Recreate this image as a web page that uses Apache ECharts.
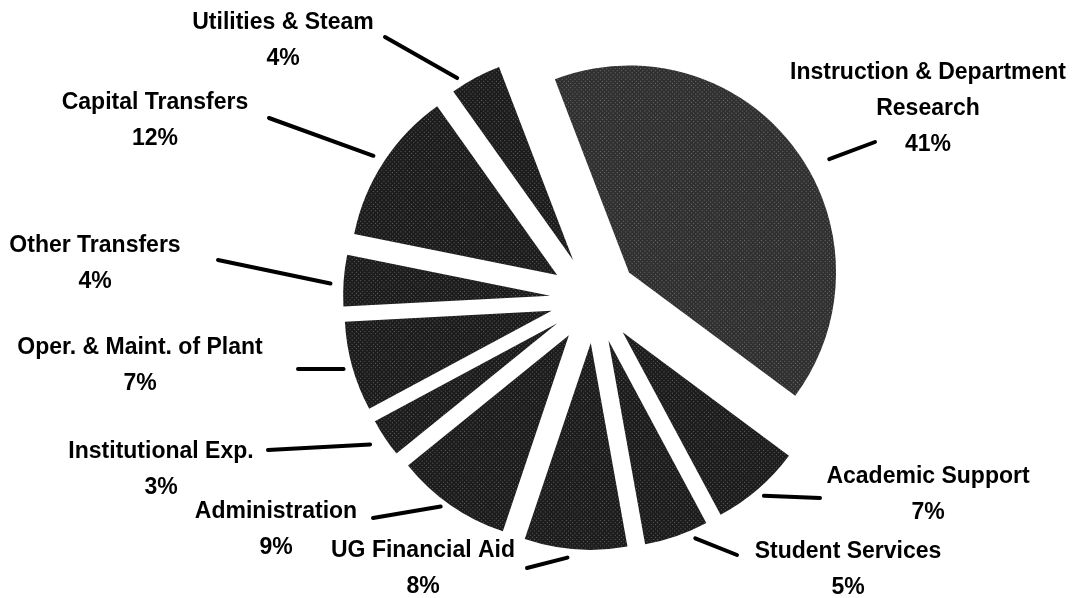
<!DOCTYPE html>
<html>
<head>
<meta charset="utf-8">
<script src="https://cdn.jsdelivr.net/npm/echarts@6/dist/echarts.min.js"></script>
<style>
  html, body { margin: 0; padding: 0; background: #fff; }
  #main { width: 1072px; height: 598px; }
</style>
</head>
<body>
<div id="main"></div>
<script>
// budget shares, clockwise from the top
const categories = [
  'Instruction & Department\nResearch',
  'Academic Support',
  'Student Services',
  'UG Financial Aid',
  'Administration',
  'Institutional Exp.',
  'Oper. & Maint. of Plant',
  'Other Transfers',
  'Capital Transfers',
  'Utilities & Steam'
];
const shares = [41, 7, 5, 8, 9, 3, 7, 4, 12, 4];

// label placement (text centre), where each leader line ends,
// and [angle shift in degrees, gap from the rim] for where it starts
const labelPos = [[928, 109], [928, 495], [848, 570], [423, 569], [276, 530],
  [161, 470], [140, 366], [95, 264], [155, 121], [283, 41]];
const lineEnds = [[875, 142], [820, 498], [737, 555], [527, 568], [373, 518],
  [268, 450], [298, 369], [218, 260], [269, 118], [385, 37]];
const lineStarts = [[7.7, 23], [0, 9], [-4.5, 9], [2, 9], [2, 7],
  [0.7, 16], [0, 9], [-1, 13], [0, 12], [-4.3, 9]];

const cx = 594, cy = 299, R = 207, explode = 44, startAngle = 111;
const total = shares.reduce((a, b) => a + b, 0);

const chart = echarts.init(document.getElementById('main'));

// mid angle of each slice, clockwise from 12 o'clock
let acc = 90 - startAngle;
const mids = shares.map(v => {
  const span = v / total * 360;
  const m = acc + span / 2;
  acc += span;
  return m * Math.PI / 180;
});

const series = shares.map((v, i) => {
  const ox = cx + explode * Math.sin(mids[i]);
  const oy = cy - explode * Math.cos(mids[i]);
  const a = mids[i] + lineStarts[i][0] * Math.PI / 180;
  const sx = ox + (R + lineStarts[i][1]) * Math.sin(a);
  const sy = oy - (R + lineStarts[i][1]) * Math.cos(a);
  return {
    type: 'pie',
    center: [ox, oy],
    radius: R,
    startAngle: startAngle,
    silent: true,
    avoidLabelOverlap: false,
    label: {
      position: 'outside',
      formatter: '{b}\n{c}%',
      color: '#000',
      fontFamily: 'Liberation Sans',
      fontWeight: 'bold',
      fontSize: 23,
      lineHeight: 36
    },
    labelLine: {
      lineStyle: {color: '#000', width: 4, cap: 'round'}
    },
    labelLayout: function (params) {
      if (params.dataIndex !== i) return {};
      return {
        x: labelPos[i][0],
        y: labelPos[i][1],
        align: 'center',
        verticalAlign: 'middle',
        labelLinePoints: [[sx, sy], [sx, sy], lineEnds[i]]
      };
    },
    data: shares.map((s, j) => ({
      name: categories[j],
      value: s,
      itemStyle: j === i ? {
        color: i === 0 ? '#303030' : '#1c1c1c',
        decal: {
          symbol: 'rect',
          symbolSize: 1,
          color: 'rgba(255,255,255,0.3)',
          dashArrayX: [1, 2],
          dashArrayY: [1, 2],
          rotation: Math.PI / 4
        }
      } : {color: 'rgba(0,0,0,0)'},
      label: {show: j === i},
      labelLine: {show: j === i}
    }))
  };
});

chart.setOption({
  backgroundColor: '#fff',
  animation: false,
  series: series
});
</script>
</body>
</html>
